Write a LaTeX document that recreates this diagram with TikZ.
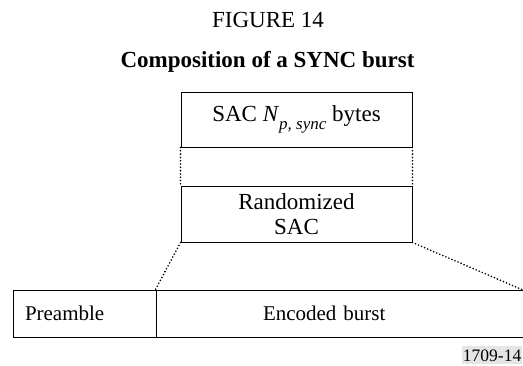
\documentclass[tikz,border=0pt]{standalone}
\usepackage{fontspec}
\setmainfont{Liberation Serif}
\begin{document}
\begin{tikzpicture}[x=1pt,y=-1pt,
  box/.style={draw, line width=1pt, inner sep=0pt, align=center, font=\fontsize{23}{25}\selectfont},
  lowbox/.style={draw, line width=1pt, inner ysep=0pt, minimum height=47pt, align=left, font=\fontsize{21}{23}\selectfont},
  dotline/.style={line width=1.8pt, line cap=round, dash pattern=on 0pt off 3.3pt},
  title/.style={anchor=base, font=\fontsize{23}{25}\selectfont}]
\useasboundingbox (0,0) rectangle (523,365);
\clip (0,0) rectangle (523,365);
\node[title] (fig) at (268,27.5) {FIGURE 14};
\node[title, font=\fontsize{23}{25}\selectfont\bfseries] (cap) at (267.5,67) {Composition of a SYNC burst};
\node[box, minimum width=231pt, minimum height=55pt] (sac) at (296.5,119.5)
  {SAC \textit{N}\raisebox{-0.32em}{\fontsize{17}{17}\selectfont\textit{p, sync}} bytes};
\node[box, minimum width=231pt, minimum height=56pt] (rnd) at (296.5,214) {Randomized\\SAC};
\node[lowbox, inner xsep=12pt, text width=119pt] (pre) at (84.5,313.5) {Preamble};
\node[lowbox, inner xsep=107pt, text width=170pt] (enc) at (348,313.5) {Encoded burst};
\coordinate (rend) at (523,290);
\draw[dotline] (sac.south west) -- (rnd.north west);
\draw[dotline] (sac.south east) -- (rnd.north east);
\draw[dotline] (rnd.south west) -- (enc.north west);
\draw[dotline] (rnd.south east) -- (rend);
\node[anchor=base east, fill=black!10, inner xsep=1pt, inner ysep=3pt, font=\fontsize{17.5}{18}\selectfont] (num) at (522.5,361) {1709-14};
\end{tikzpicture}
\end{document}
